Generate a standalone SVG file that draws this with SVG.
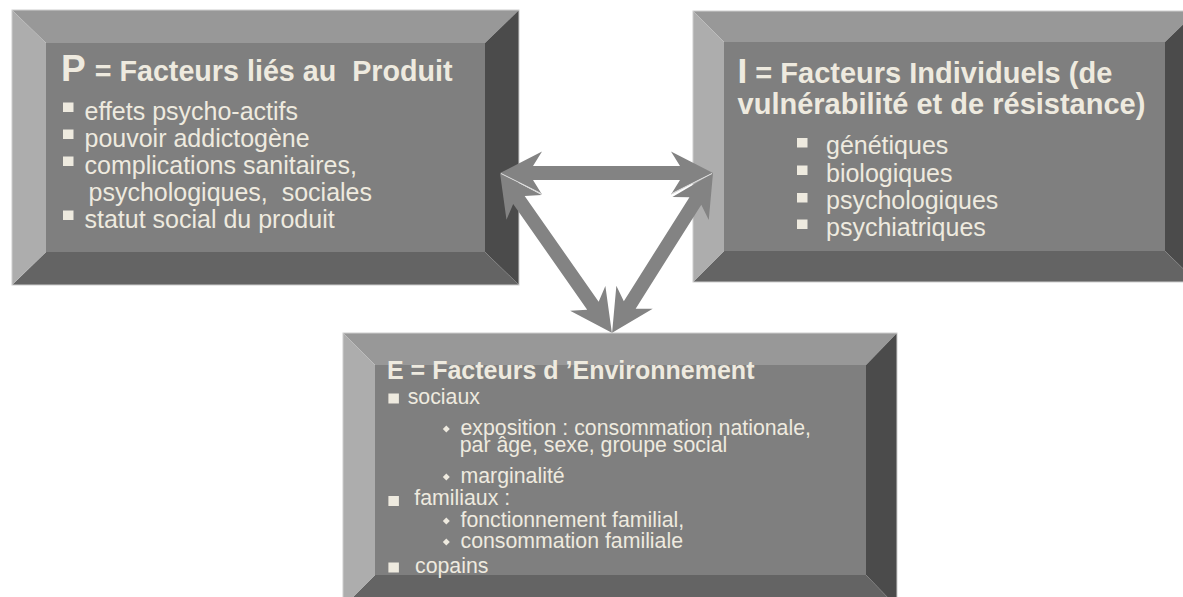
<svg xmlns="http://www.w3.org/2000/svg" width="1183" height="597" viewBox="0 0 1183 597">
<style>
.face{fill:#7f7f7f}
.bt{fill:#989898}
.bl{fill:#adadad}
.br{fill:#4b4b4b}
.bb{fill:#646464}
.edge{fill:none;stroke:#cdcdcd;stroke-width:1}
.t{font-family:"Liberation Sans",Arial,sans-serif;fill:#eeeadf}
.h{font-weight:bold}
.b{fill:#eeeadf}
.arrow{fill:#838383}
.seam{stroke:#e8e8e8;stroke-width:1;fill:none}
</style>
<rect width="1183" height="597" fill="#ffffff"/>

<g id="node-P">
  <polygon class="bt" points="12,10 519,10 485,43 46,43"/>
  <polygon class="br" points="519,10 519,285 485,252 485,43"/>
  <polygon class="bb" points="12,285 519,285 485,252 46,252"/>
  <polygon class="bl" points="12,10 46,43 46,252 12,285"/>
  <rect class="face" x="46" y="43" width="439" height="209"/>
  <rect class="edge" x="12" y="10" width="507" height="275"/>
  <text class="t h" x="61" y="81" xml:space="preserve"><tspan font-size="37">P</tspan><tspan x="94.7" font-size="28.7">= Facteurs liés au  Produit</tspan></text>
  <rect class="b" x="63" y="102.5" width="10.5" height="9.5"/>
  <rect class="b" x="63" y="129.5" width="10.5" height="9.5"/>
  <rect class="b" x="63" y="156.5" width="10.5" height="9.5"/>
  <rect class="b" x="63" y="210.5" width="10.5" height="9.5"/>
  <g class="t" font-size="25">
    <text x="84.5" y="120">effets psycho-actifs</text>
    <text x="84.5" y="147">pouvoir addictogène</text>
    <text x="84.5" y="174">complications sanitaires,</text>
    <text x="88.5" y="201" xml:space="preserve">psychologiques,  sociales</text>
    <text x="84.5" y="228">statut social du produit</text>
  </g>
</g>

<g id="node-I">
  <polygon class="bt" points="693,11 1197,11 1165,42 724,42"/>
  <polygon class="br" points="1197,11 1197,282 1165,251 1165,42"/>
  <polygon class="bb" points="693,282 1197,282 1165,251 724,251"/>
  <polygon class="bl" points="693,11 724,42 724,251 693,282"/>
  <rect class="face" x="724" y="42" width="441" height="209"/>
  <rect class="edge" x="693" y="11" width="504" height="271"/>
  <text class="t h" x="737.6" y="83"><tspan font-size="35">I</tspan><tspan x="755.3" font-size="29">= Facteurs Individuels (de</tspan></text>
  <text class="t h" x="737.6" y="114" font-size="29">vulnérabilité et de résistance)</text>
  <rect class="b" x="797" y="138" width="10.5" height="9.5"/>
  <rect class="b" x="797" y="165.5" width="10.5" height="9.5"/>
  <rect class="b" x="797" y="193" width="10.5" height="9.5"/>
  <rect class="b" x="797" y="219.5" width="10.5" height="9.5"/>
  <g class="t" font-size="25">
    <text x="826" y="154">génétiques</text>
    <text x="826" y="181.5">biologiques</text>
    <text x="826" y="209">psychologiques</text>
    <text x="826" y="235.5">psychiatriques</text>
  </g>
</g>

<g id="node-E">
  <polygon class="bt" points="343,333 897,333 866,365 375,365"/>
  <polygon class="br" points="897,333 897,607 866,575 866,365"/>
  <polygon class="bb" points="343,607 897,607 866,575 375,575"/>
  <polygon class="bl" points="343,333 375,365 375,575 343,607"/>
  <rect class="face" x="375" y="365" width="491" height="210"/>
  <rect class="edge" x="343" y="333" width="554" height="274"/>
  <text class="t h" x="387" y="379.3" font-size="25">E = Facteurs d ’Environnement</text>
  <rect class="b" x="388.4" y="393.5" width="10.5" height="10"/>
  <rect class="b" x="388.4" y="496" width="10.5" height="10"/>
  <rect class="b" x="388.4" y="562.5" width="10.5" height="10"/>
  <polygon class="b" points="446.3,425.4 449.8,428.9 446.3,432.4 442.8,428.9"/>
  <polygon class="b" points="446.3,473.4 449.8,476.9 446.3,480.4 442.8,476.9"/>
  <polygon class="b" points="446.3,517.4 449.8,520.9 446.3,524.4 442.8,520.9"/>
  <polygon class="b" points="446.3,538.4 449.8,541.9 446.3,545.4 442.8,541.9"/>
  <g class="t" font-size="21.3">
    <text x="407.7" y="404.3">sociaux</text>
    <text x="460.5" y="434.5">exposition : consommation nationale,</text>
    <text x="459.7" y="451.5">par âge, sexe, groupe social</text>
    <text x="460.5" y="482.7">marginalité</text>
    <text x="414.3" y="505.3">familiaux :</text>
    <text x="460.5" y="526.5">fonctionnement familial,</text>
    <text x="460.5" y="548">consommation familiale</text>
    <text x="415" y="573.3">copains</text>
  </g>
</g>

<g id="connectors">
  <polygon class="arrow" transform="translate(500,173) rotate(55)" points="0,0 42,-21.5 33,-7 162,-7 153,-21.5 195,0 153,21.5 162,7 33,7 42,21.5"/>
  <polygon class="arrow" transform="translate(713,173) rotate(122.26)" points="0,0 42,-21.5 33,-7 156,-7 147,-21.5 189,0 147,21.5 156,7 33,7 42,21.5"/>
  <polygon class="arrow" transform="translate(500,173)" points="0,0 42,-21.5 33,-7 180,-7 171,-21.5 213,0 171,21.5 180,7 33,7 42,21.5"/>
  <line class="seam" x1="501" y1="173.5" x2="541" y2="193.5"/>
  <line class="seam" x1="712" y1="173.5" x2="672" y2="193.5"/>
</g>
</svg>
